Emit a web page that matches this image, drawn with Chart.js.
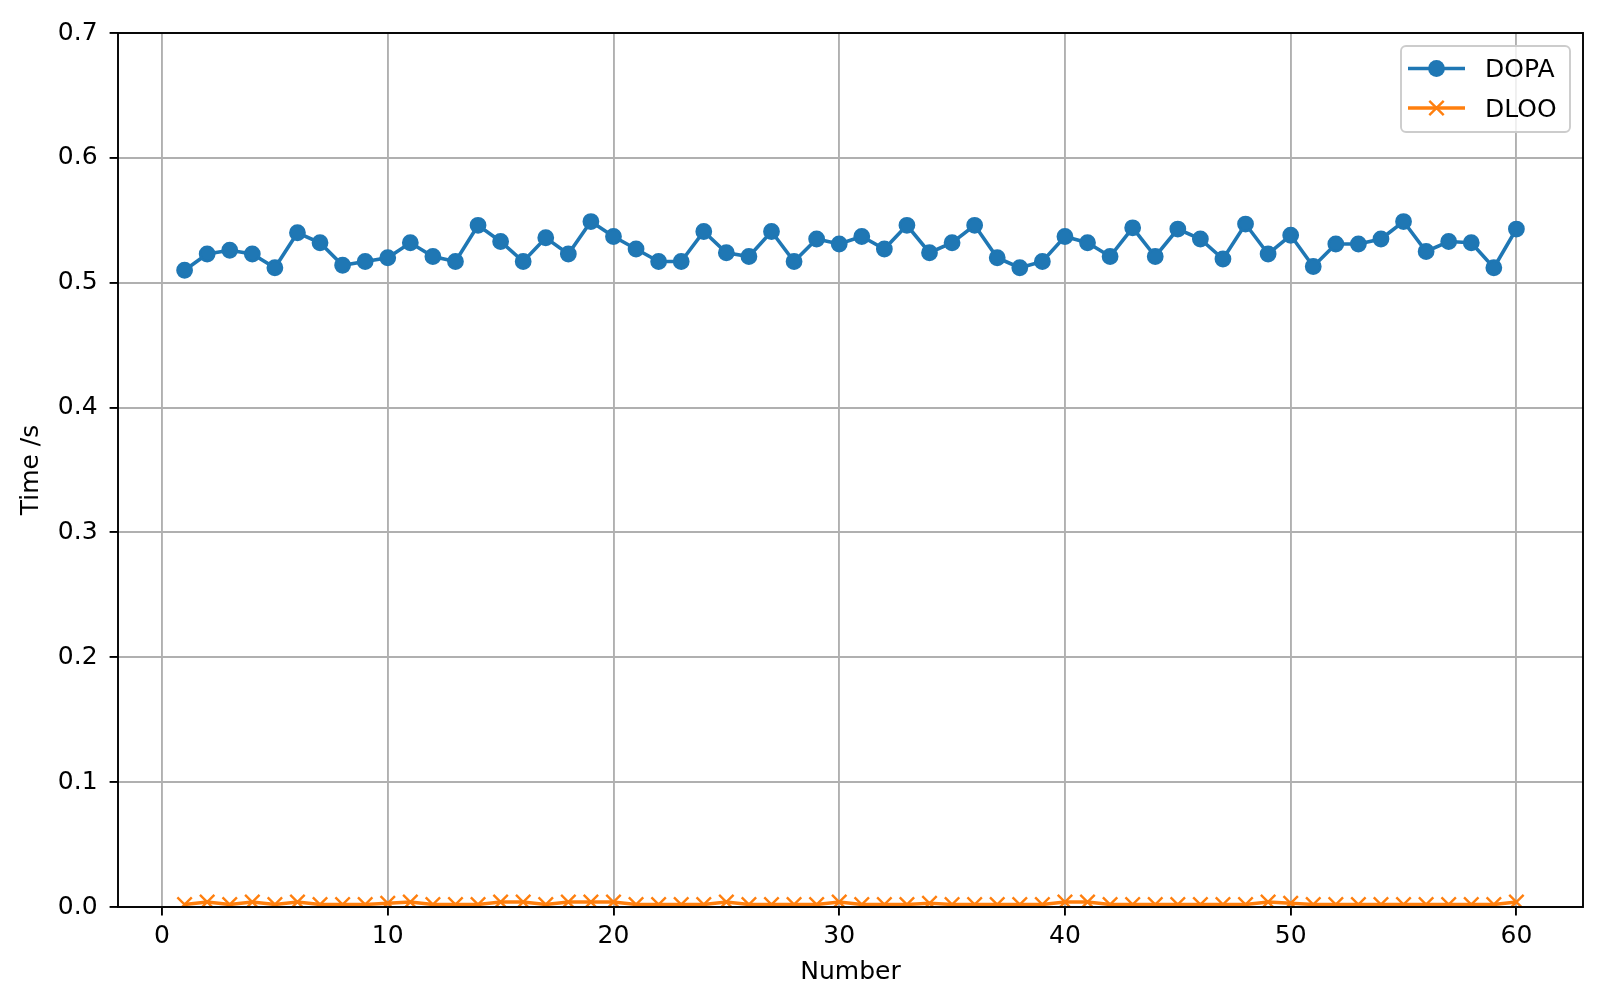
<!DOCTYPE html>
<html>
<head>
<meta charset="utf-8">
<title>DOPA vs DLOO</title>
<script src="https://cdn.jsdelivr.net/npm/chart.js@4.4.1/dist/chart.umd.min.js"></script>
<style>
    html, body { margin: 0; padding: 0; background: #fff; }
    #timeChart { display: block; }
</style>
</head>
<body>
<canvas id="timeChart" width="1599" height="1003"></canvas>
<script>
// run number on the x axis
const runs = [1, 2, 3, 4, 5, 6, 7, 8, 9, 10,
    11, 12, 13, 14, 15, 16, 17, 18, 19, 20,
    21, 22, 23, 24, 25, 26, 27, 28, 29, 30,
    31, 32, 33, 34, 35, 36, 37, 38, 39, 40,
    41, 42, 43, 44, 45, 46, 47, 48, 49, 50,
    51, 52, 53, 54, 55, 56, 57, 58, 59, 60];

// time in seconds
const dopaTimes = [0.510, 0.523, 0.526, 0.523, 0.512, 0.540, 0.532, 0.514, 0.517, 0.520,
    0.532, 0.521, 0.517, 0.546, 0.533, 0.517, 0.536, 0.523, 0.549, 0.537,
    0.527, 0.517, 0.517, 0.541, 0.524, 0.521, 0.541, 0.517, 0.535, 0.531,
    0.537, 0.527, 0.546, 0.524, 0.532, 0.546, 0.520, 0.512, 0.517, 0.537,
    0.532, 0.521, 0.544, 0.521, 0.543, 0.535, 0.519, 0.547, 0.523, 0.538,
    0.513, 0.531, 0.531, 0.535, 0.549, 0.525, 0.533, 0.532, 0.512, 0.543];

const dlooTimes = [0.002, 0.004, 0.002, 0.004, 0.002, 0.004, 0.002, 0.002, 0.002, 0.003,
    0.004, 0.002, 0.002, 0.002, 0.004, 0.004, 0.002, 0.004, 0.004, 0.004,
    0.002, 0.002, 0.002, 0.002, 0.004, 0.002, 0.002, 0.002, 0.002, 0.004,
    0.002, 0.002, 0.002, 0.003, 0.002, 0.002, 0.002, 0.002, 0.002, 0.004,
    0.004, 0.002, 0.002, 0.002, 0.002, 0.002, 0.002, 0.002, 0.004, 0.003,
    0.002, 0.002, 0.002, 0.002, 0.002, 0.002, 0.002, 0.002, 0.002, 0.004];

const xTicks = [0, 10, 20, 30, 40, 50, 60];
const yTicks = [0, 0.1, 0.2, 0.3, 0.4, 0.5, 0.6, 0.7];

const BLUE = '#1f77b4';
const ORANGE = '#ff7f0e';
const FONT = { family: 'DejaVu Sans', size: 25 };

Chart.defaults.font.family = FONT.family;
Chart.defaults.color = '#000';

// black box around the plot area (all four spines)
const framePlugin = {
    id: 'frame',
    afterDatasetsDraw(chart) {
        const { ctx, chartArea: a } = chart;
        ctx.save();
        ctx.strokeStyle = '#000';
        ctx.lineWidth = 1.9;
        ctx.strokeRect(a.left, a.top, a.right - a.left, a.bottom - a.top);
        ctx.restore();
    }
};

// matplotlib style legend: line sample with marker through it
const legendPlugin = {
    id: 'mplLegend',
    afterDraw(chart) {
        const ctx = chart.ctx;
        const box = { x: 1401, y: 46, w: 169, h: 86 };
        ctx.save();
        ctx.beginPath();
        ctx.roundRect(box.x, box.y, box.w, box.h, 5);
        ctx.fillStyle = 'rgba(255,255,255,0.8)';
        ctx.fill();
        ctx.strokeStyle = '#cccccc';
        ctx.lineWidth = 1.9;
        ctx.stroke();

        const items = [
            { label: chart.data.datasets[0].label, color: BLUE, y: 68.5, marker: 'circle' },
            { label: chart.data.datasets[1].label, color: ORANGE, y: 108, marker: 'x' }
        ];
        items.forEach(it => {
            ctx.strokeStyle = it.color;
            ctx.lineWidth = 3.6;
            ctx.beginPath();
            ctx.moveTo(1408, it.y);
            ctx.lineTo(1465, it.y);
            ctx.stroke();
            if (it.marker === 'circle') {
                ctx.fillStyle = it.color;
                ctx.beginPath();
                ctx.arc(1436.5, it.y, 8.4, 0, Math.PI * 2);
                ctx.fill();
            } else {
                ctx.lineWidth = 2.4;
                ctx.beginPath();
                ctx.moveTo(1436.5 - 7.2, it.y - 7.2);
                ctx.lineTo(1436.5 + 7.2, it.y + 7.2);
                ctx.moveTo(1436.5 - 7.2, it.y + 7.2);
                ctx.lineTo(1436.5 + 7.2, it.y - 7.2);
                ctx.stroke();
            }
            ctx.fillStyle = '#000';
            ctx.font = `${FONT.size}px ${FONT.family}`;
            ctx.textBaseline = 'middle';
            ctx.textAlign = 'left';
            ctx.fillText(it.label, 1485, it.y + 2);
        });
        ctx.restore();
    }
};

const gridOpts = {
    color: '#b0b0b0',
    lineWidth: 1.9,
    drawTicks: true,
    tickLength: 8.4,
    tickColor: '#000',
    tickWidth: 1.9
};

new Chart(document.getElementById('timeChart'), {
    type: 'line',
    data: {
        datasets: [{
            label: 'DOPA',
            data: runs.map((n, i) => ({ x: n, y: dopaTimes[i] })),
            borderColor: BLUE,
            backgroundColor: BLUE,
            borderWidth: 3.6,
            tension: 0,
            pointStyle: 'circle',
            pointRadius: 7.2,
            pointBorderWidth: 2.4,
            pointBackgroundColor: BLUE,
            pointBorderColor: BLUE,
            clip: 0
        }, {
            label: 'DLOO',
            data: runs.map((n, i) => ({ x: n, y: dlooTimes[i] })),
            borderColor: ORANGE,
            backgroundColor: ORANGE,
            borderWidth: 3.6,
            tension: 0,
            pointStyle: 'crossRot',
            pointRadius: 10.2,
            pointBorderWidth: 2.4,
            pointBorderColor: ORANGE,
            clip: 0
        }]
    },
    options: {
        responsive: false,
        animation: false,
        devicePixelRatio: 1,
        layout: { padding: { top: 33, right: 16, left: 0, bottom: 0 } },
        plugins: {
            legend: { display: false },
            tooltip: { enabled: false }
        },
        scales: {
            x: {
                type: 'linear',
                min: -1.95,
                max: 62.95,
                afterBuildTicks: scale => { scale.ticks = xTicks.map(v => ({ value: v })); },
                afterFit: scale => { scale.height = 96; },
                grid: gridOpts,
                border: { display: false },
                ticks: { font: FONT, color: '#000', padding: 6, maxRotation: 0, autoSkip: false },
                title: { display: true, text: 'Number', font: FONT, color: '#000', padding: { top: 0, bottom: 15.5 } }
            },
            y: {
                type: 'linear',
                min: 0,
                max: 0.7,
                afterBuildTicks: scale => { scale.ticks = yTicks.map(v => ({ value: v })); },
                afterFit: scale => { scale.width = 118; },
                grid: gridOpts,
                border: { display: false },
                ticks: { font: FONT, color: '#000', padding: 12, callback: v => v.toFixed(1) },
                title: { display: true, text: 'Time /s', font: FONT, color: '#000', padding: { top: 16, bottom: 0 } }
            }
        }
    },
    plugins: [framePlugin, legendPlugin]
});
</script>
</body>
</html>
